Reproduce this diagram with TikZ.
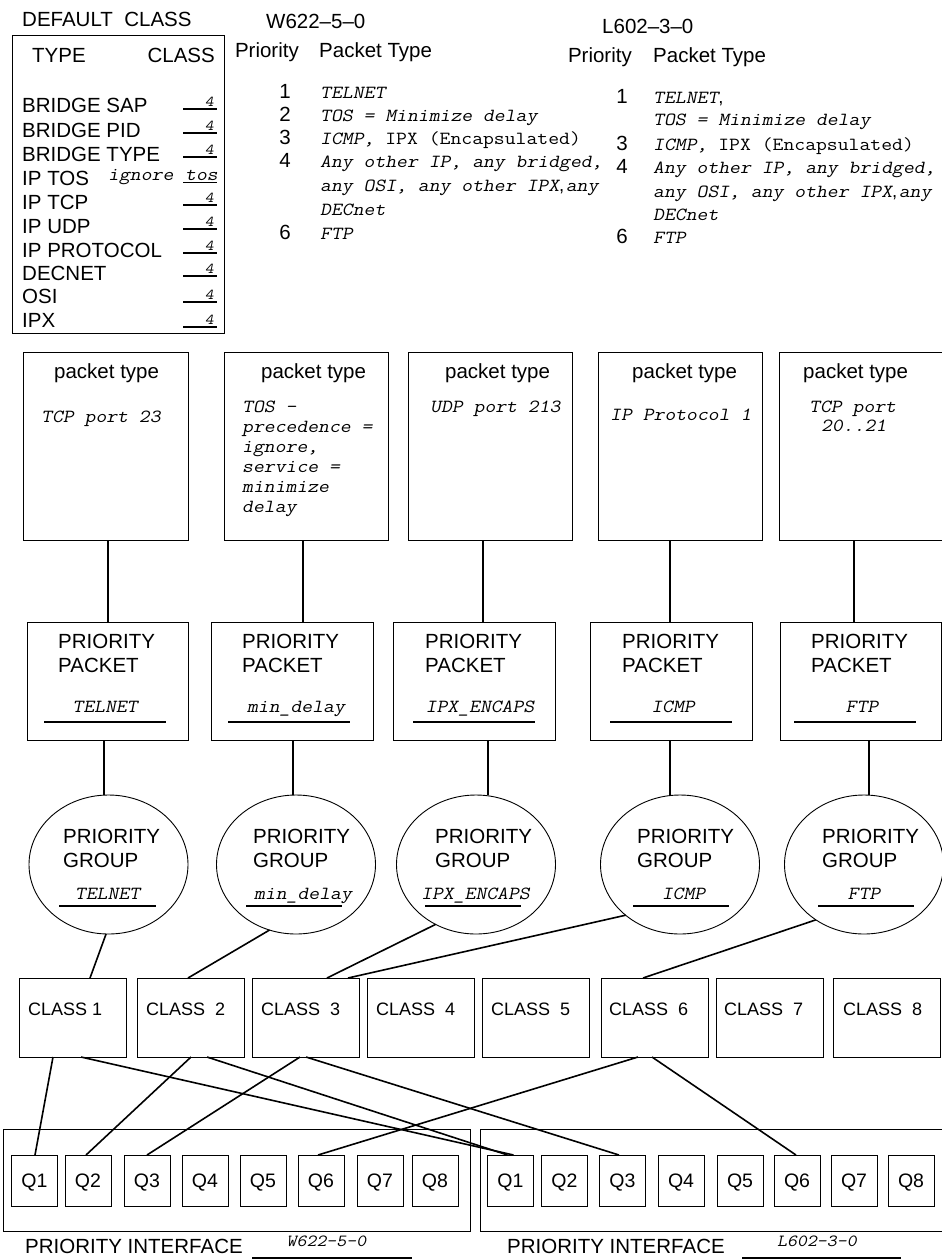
\documentclass[tikz,border=0pt]{standalone}
\usepackage{fontspec}
\setmainfont{Liberation Sans}
\setmonofont{Latin Modern Mono}[FakeStretch=1.14]
\newfontfamily\ttobl{Latin Modern Mono}[FakeStretch=1.14, FakeSlant=0.2]
\usetikzlibrary{shapes.geometric}
\begin{document}
\begin{tikzpicture}[x=1pt,y=-1pt,
 frame/.style={draw, line width=0.9pt, inner sep=0pt, outer sep=0pt},
 wire/.style={line width=1.6pt},
 uline/.style={line width=1.8pt},
 lab/.style={inner sep=0pt, anchor=base west, font=\fontsize{20.5}{23.5}\selectfont},
 clab/.style={inner sep=0pt, anchor=base west, font=\fontsize{18}{20}\selectfont},
 qlab/.style={inner sep=0pt, anchor=base, font=\fontsize{19.5}{20}\selectfont},
 mit/.style={inner sep=0pt, anchor=base west, font=\fontsize{18.5}{20}\selectfont\ttobl},
 num/.style={inner sep=0pt, anchor=base, font=\fontsize{20.5}{23.5}\selectfont},
 smallfour/.style={inner sep=0pt, anchor=base east, font=\fontsize{15}{16}\selectfont\ttobl},
]
\useasboundingbox (0,0) rectangle (942,1259);

% ---------------- DEFAULT CLASS box
\node[lab] (dctitle) at (22,26) {DEFAULT\ \ CLASS};
\node[frame, minimum width=212pt, minimum height=298pt] (dc) at (118,184) {};
\node[lab] (dctype) at (32,62) {TYPE};
\node[lab, anchor=base east] (dcclass) at (215,62) {CLASS};
\foreach \t/\b/\u [count=\i] in {BRIDGE SAP/112/109, BRIDGE PID/137/133, BRIDGE TYPE/161/157, IP TCP/209/205, IP UDP/233/229, IP PROTOCOL/257/253, DECNET/280/276, OSI/303/302, IPX/327/327}{
  \node[lab] (dcr\i) at (22,\b) {\t};
  \draw[uline] (183,\u) -- (217,\u);
  \node[smallfour] (dcf\i) at (214,\u-3) {4};
}
\node[lab] (dctos) at (22,185) {IP TOS};
\node[mit] (dcign) at (108,180) {ignore};
\node[mit] (dctosv) at (185,180) {tos};
\draw[uline] (183,182.5) -- (217,182.5);

% ---------------- W622 table
\node[lab] (wtitle) at (266,28) {W622–5–0};
\node[lab, anchor=base east] (wprio) at (299,57) {Priority};
\node[lab] (wptype) at (319,57) {Packet Type};
\node[num] (wn1) at (285,98) {1};
\node[num] (wn2) at (285,121) {2};
\node[num] (wn3) at (285,144) {3};
\node[num] (wn4) at (285,167) {4};
\node[num] (wn6) at (285,239) {6};
\node[mit] (wt1) at (320,98) {TELNET};
\node[mit] (wt2) at (320,121) {TOS = Minimize delay};
\node[mit] (wt3) at (320,144) {ICMP, {\ttfamily IPX (Encapsulated)}};
\node[mit] (wt4) at (320,167) {Any other IP, any bridged,};
\node[mit] (wt5) at (320,191) {any OSI, any other IPX{\rmfamily\upshape,}\hspace{1.5pt}any};
\node[mit] (wt6) at (320,215) {DECnet};
\node[mit] (wt7) at (320,239) {FTP};

% ---------------- L602 table
\node[lab] (ltitle) at (602,33) {L602–3–0};
\node[lab, anchor=base east] (lprio) at (632,62) {Priority};
\node[lab] (lptype) at (653,62) {Packet Type};
\node[num] (ln1) at (622,103) {1};
\node[num] (ln3) at (622,150) {3};
\node[num] (ln4) at (622,173) {4};
\node[num] (ln6) at (622,243) {6};
\node[mit] (lt1) at (653,103) {TELNET{\rmfamily\upshape,}};
\node[mit] (lt2) at (653,125) {TOS = Minimize delay};
\node[mit] (lt3) at (653,150) {ICMP, {\ttfamily IPX (Encapsulated)}};
\node[mit] (lt4) at (653,173) {Any other IP, any bridged,};
\node[mit] (lt5) at (653,197) {any OSI, any other IPX{\rmfamily\upshape,}\hspace{1.5pt}any};
\node[mit] (lt6) at (653,220) {DECnet};
\node[mit] (lt7) at (653,243) {FTP};

% ---------------- packet type boxes
\foreach \n/\x/\w/\tx in {1/105.5/165/54, 2/306/164/261, 3/490/164/445, 4/680/164/632, 5/861.5/165/803}{
  \node[frame, minimum width=\w pt, minimum height=188pt] (pt\n) at (\x,446) {};
  \node[lab] (ptl\n) at (\tx,378) {packet type};
}
\node[mit] (ptt1) at (41,422) {TCP port 23};
\node[mit] (ptt2a) at (242,412) {TOS –};
\node[mit] (ptt2b) at (242,432) {precedence =};
\node[mit] (ptt2c) at (242,452) {ignore,};
\node[mit] (ptt2d) at (242,472) {service =};
\node[mit] (ptt2e) at (242,492) {minimize};
\node[mit] (ptt2f) at (242,512) {delay};
\node[mit] (ptt3) at (430,412) {UDP port 213};
\node[mit] (ptt4) at (610,420) {IP Protocol 1};
\node[mit] (ptt5a) at (809,412) {TCP port};
\node[mit] (ptt5b) at (821,431) {20..21};

% ---------------- priority packet boxes
\foreach \n/\x/\w/\tx/\lx/\ua/\ub/\lbl in {1/107.5/161/58/105/44/166/TELNET, 2/292/162/242/296/228/350/min\_delay, 3/474/162/425/480/413/535/IPX\_ENCAPS, 4/671/162/622/673/610/732/ICMP, 5/860.5/161/811/862/794/916/FTP}{
  \node[frame, minimum width=\w pt, minimum height=118pt] (pp\n) at (\x,681) {};
  \node[lab] (ppa\n) at (\tx,648) {PRIORITY};
  \node[lab] (ppb\n) at (\tx,672) {PACKET};
  \node[mit, anchor=base] (ppl\n) at (\lx,712) {\lbl};
  \draw[uline] (\ua,722) -- (\ub,722);
}

% ---------------- priority group ellipses
\foreach \n/\x/\tx/\lx/\ua/\ub/\lbl in {1/108.5/63/107.5/59/156/TELNET, 2/296/253/303/246/342/min\_delay, 3/476/435/475.5/425/521/IPX\_ENCAPS, 4/680/637/683.5/633/729/ICMP, 5/864/822/864/818/914/FTP}{
  \node[frame, ellipse, minimum width=159pt, minimum height=139pt] (e\n) at (\x,864.5) {};
  \node[lab] (ea\n) at (\tx,843) {PRIORITY};
  \node[lab] (eb\n) at (\tx,867) {GROUP};
  \node[mit, anchor=base] (el\n) at (\lx,899) {\lbl};
  \draw[uline] (\ua,906) -- (\ub,906);
}

% ---------------- class boxes
\foreach \n/\x in {1/73, 2/190.5, 3/305.5, 4/421, 5/536, 6/654.5, 7/769.5, 8/887}{
  \node[frame, minimum width=107pt, minimum height=79pt] (c\n) at (\x,1017.5) {};
}
\node[clab] (cl1) at (28,1015) {CLASS 1};
\node[clab] (cl2) at (146,1015) {CLASS\ \ 2};
\node[clab] (cl3) at (261,1015) {CLASS\ \ 3};
\node[clab] (cl4) at (376,1015) {CLASS\ \ 4};
\node[clab] (cl5) at (491,1015) {CLASS\ \ 5};
\node[clab] (cl6) at (609,1015) {CLASS\ \ 6};
\node[clab] (cl7) at (724,1015) {CLASS\ \ 7};
\node[clab] (cl8) at (843,1015) {CLASS\ \ 8};

% ---------------- interfaces
\node[frame, minimum width=467pt, minimum height=102pt] (wif) at (236.5,1180) {};
\node[frame, minimum width=465pt, minimum height=102pt] (lif) at (712.5,1180) {};
\foreach \n/\x in {1/34.5, 2/88, 3/147, 4/205, 5/263, 6/321, 7/380, 8/435}{
  \node[frame, minimum width=46pt, minimum height=51pt] (wq\n) at (\x,1180.5) {};
  \node[qlab] (wql\n) at (\x,1187) {Q\n};
}
\foreach \n/\x in {1/510.5, 2/564.5, 3/622.5, 4/681, 5/740, 6/797, 7/854, 8/911}{
  \node[frame, minimum width=46pt, minimum height=51pt] (lq\n) at (\x,1180.5) {};
  \node[qlab] (lql\n) at (\x,1187) {Q\n};
}
\node[lab] (wifl) at (25,1253) {PRIORITY INTERFACE};
\draw[uline] (252,1258) -- (412,1258);
\node[mit, anchor=base, font=\fontsize{17}{18}\selectfont\ttobl] (wifn) at (326.5,1246) {W622-5-0};
\node[lab] (lifl) at (507,1253) {PRIORITY INTERFACE};
\draw[uline] (742,1258) -- (901,1258);
\node[mit, anchor=base, font=\fontsize{17}{18}\selectfont\ttobl] (lifn) at (817,1246) {L602-3-0};

% ---------------- connectors
\draw[wire] ([xshift=2.5pt]pt1.south) -- ([xshift=0.5pt]pp1.north);
\draw[wire] ([xshift=-3pt]pt2.south) -- ([xshift=11pt]pp2.north);
\draw[wire] ([xshift=-7pt]pt3.south) -- ([xshift=9pt]pp3.north);
\draw[wire] ([xshift=-10pt]pt4.south) -- ([xshift=-1pt]pp4.north);
\draw[wire] ([xshift=-7.5pt]pt5.south) -- ([xshift=-6.5pt]pp5.north);

\draw[wire] ([xshift=-3.5pt]pp1.south) -- ([xshift=-4.5pt]e1.north);
\draw[wire] ([xshift=1pt]pp2.south) -- ([xshift=-3pt]e2.north);
\draw[wire] ([xshift=14pt]pp3.south) -- ([xshift=12pt]e3.north);
\draw[wire] ([xshift=-1pt]pp4.south) -- ([xshift=-10pt]e4.north);
\draw[wire] ([xshift=8.5pt]pp5.south) -- ([xshift=5pt]e5.north);

\draw[wire] (e1.268) -- ([xshift=17pt]c1.north);
\draw[wire] (e2.248) -- ([xshift=-2.5pt]c2.north);
\draw[wire] (e3.236) -- ([xshift=21.5pt]c3.north);
\draw[wire] (e4.223) -- ([xshift=42.5pt]c3.north);
\draw[wire] (e5.229) -- ([xshift=-11.5pt]c6.north);

\draw[wire] ([xshift=-20pt]c1.south) -- ([xshift=0.5pt]wq1.north);
\draw[wire] ([xshift=8pt]c1.south) -- ([xshift=3pt]lq1.north);
\draw[wire] ([xshift=0.5pt]c2.south) -- ([xshift=-2pt]wq2.north);
\draw[wire] ([xshift=16.5pt]c2.south) -- ([xshift=-3pt]lq1.north);
\draw[wire] ([xshift=-5.5pt]c3.south) -- (wq3.north);
\draw[wire] ([xshift=0.5pt]c3.south) -- ([xshift=-3.5pt]lq3.north);
\draw[wire] ([xshift=-16.5pt]c6.south) -- ([xshift=-3pt]wq6.north);
\draw[wire] ([xshift=-2.5pt]c6.south) -- ([xshift=-1pt]lq6.north);
\end{tikzpicture}
\end{document}
